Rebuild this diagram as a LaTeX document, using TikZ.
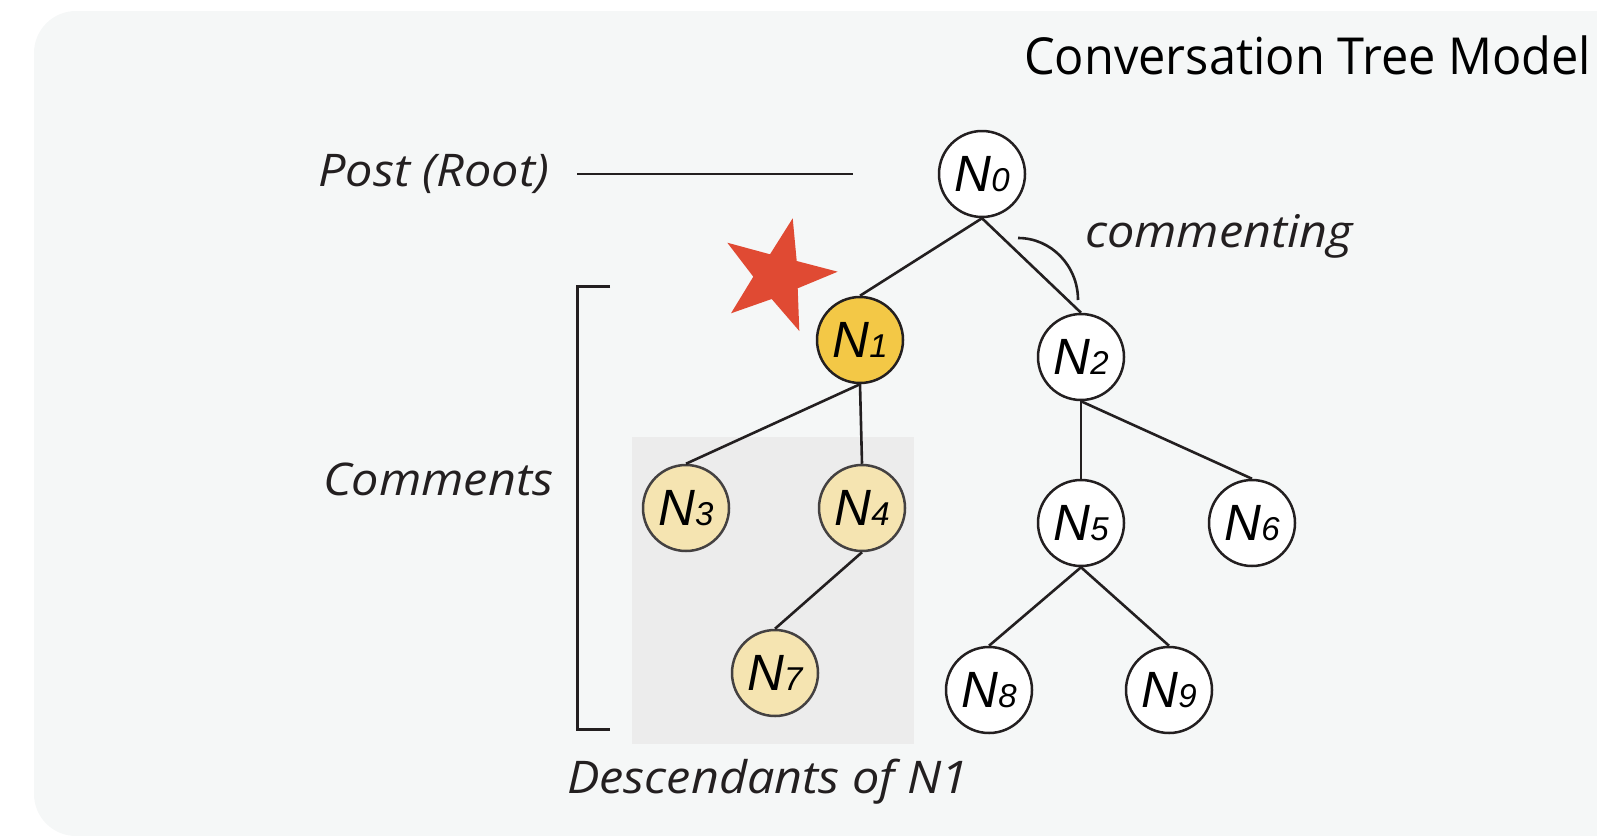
\documentclass[tikz,border=0pt]{standalone}
\usepackage{fontspec}
\setmainfont{Open Sans}
\newfontfamily\labfont[FakeStretch=1.08]{Open Sans}
\newfontfamily\titfont[FakeStretch=0.955]{Open Sans}
\newfontfamily\nfont{Liberation Sans}
\definecolor{bgc}{HTML}{F5F7F7}
\definecolor{boxc}{HTML}{ECECEC}
\definecolor{ink}{HTML}{231F20}
\definecolor{gold}{HTML}{F3C846}
\definecolor{pale}{HTML}{F5E4B1}
\definecolor{starc}{HTML}{E04A33}
\newcommand{\nlab}[1]{{\nfont\itshape\fontsize{51}{51}\selectfont N\fontsize{33}{33}\selectfont #1}}
\begin{document}
\begin{tikzpicture}[x=1pt,y=-1pt,
  treenode/.style={circle,draw=ink,line width=2.5pt,minimum size=86pt,inner sep=0pt,fill=white},
  goldnode/.style={treenode,fill=gold},
  palenode/.style={treenode,fill=pale,draw=ink!85},
  edge/.style={draw=ink,line width=2.6pt},
  lab/.style={font=\labfont\itshape\fontsize{45}{45}\selectfont,text=ink,inner sep=0pt}]
\useasboundingbox (0,0) rectangle (1597,835);
\fill[bgc,rounded corners=42pt] (34,11) rectangle (1700,836);
\fill[boxc] (632,437) rectangle (914,744);
% title
\node[anchor=base west,inner sep=0pt,font=\titfont\fontsize{51}{51}\selectfont,text=black] (title) at (1024,74) {Conversation Tree Model};
% nodes
\node[treenode] (n0) at (982,174) {\nlab{0}};
\node[goldnode] (n1) at (860,340) {\nlab{1}};
\node[treenode] (n2) at (1081,357) {\nlab{2}};
\node[palenode] (n3) at (686,508) {\nlab{3}};
\node[palenode] (n4) at (862,508) {\nlab{4}};
\node[palenode] (n7) at (775,673) {\nlab{7}};
\node[treenode] (n5) at (1081,523) {\nlab{5}};
\node[treenode] (n6) at (1252,523) {\nlab{6}};
\node[treenode] (n8) at (989,690) {\nlab{8}};
\node[treenode] (n9) at (1169,690) {\nlab{9}};
% edges
\draw[edge] (n0.south) -- (n1.north);
\draw[edge] (n0.south) -- (n2.north);
\draw[edge] (n1.south) -- (n3.north);
\draw[edge] (n1.south) -- (n4.north);
\draw[edge] (n4.south) -- (n7.north);
\draw[edge] (n2.south) -- (n5.north);
\draw[edge] (n2.south) -- (n6.north);
\draw[edge] (n5.south) -- (n8.north);
\draw[edge] (n5.south) -- (n9.north);
% commenting arc
\draw[edge] (1018,238) arc[start angle=-90,end angle=0,x radius=60,y radius=62];
% star
\fill[starc] (792.7,218.3) -- (796.7,261) -- (837.7,271.7) -- (797.7,288.3) -- (799.3,331) -- (771.7,299) -- (731,313.3) -- (753.3,276.7) -- (727.3,242.7) -- (770,254.3) -- cycle;
% labels
\node[lab,anchor=base west] (post) at (318,186) {Post (Root)};
\coordinate (pl1) at (577,174);
\coordinate (pl2) at (853,174);
\draw[edge] (pl1) -- (pl2);
\node[lab,anchor=base west] (comm) at (1085,247) {commenting};
\node[lab,anchor=base west] (comments) at (323,495) {Comments};
\node[lab,anchor=base west] (desc) at (567,793) {Descendants of N1};
% bracket
\coordinate (b1) at (610,286);
\coordinate (b2) at (577.5,286);
\coordinate (b3) at (577.5,729);
\coordinate (b4) at (610,729);
\draw[draw=ink,line width=3pt] (b1) -- (b2) -- (b3) -- (b4);
\end{tikzpicture}
\end{document}
